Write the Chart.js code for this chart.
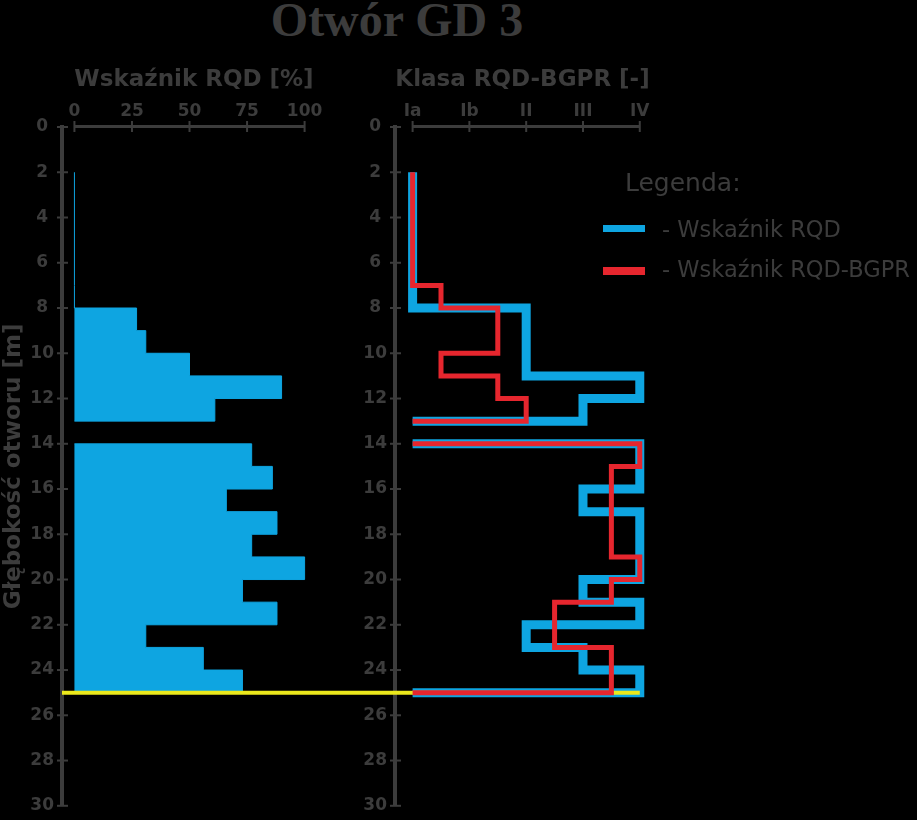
<!DOCTYPE html>
<html lang="pl">
<head>
<meta charset="utf-8">
<title>Otwór GD 3</title>
<script src="https://cdn.jsdelivr.net/npm/chart.js@4.4.1/dist/chart.umd.min.js"></script>
<style>
    html, body {
        margin: 0;
        padding: 0;
        background: #000;
        overflow: hidden;
    }

    body {
        position: relative;
        width: 917px;
        height: 820px;
        font-family: "DejaVu Sans", sans-serif;
        color: #3c3c3c;
    }

    #title {
        position: absolute;
        left: 397px;
        top: -4px;
        transform: translateX(-50%);
        font: bold 48px/48px "Liberation Serif", serif;
        white-space: nowrap;
    }

    #rqdChart {
        position: absolute;
        left: 0;
        top: 0;
    }

    #classChart {
        position: absolute;
        left: 330px;
        top: 0;
    }

    .legend-title {
        position: absolute;
        left: 625px;
        top: 170px;
        font-size: 25px;
        line-height: 25px;
    }

    .legend-swatch {
        position: absolute;
        left: 603px;
        width: 42px;
        height: 7px;
    }

    .legend-text {
        position: absolute;
        left: 662px;
        font-size: 22.5px;
        line-height: 22px;
        white-space: nowrap;
    }
</style>
</head>
<body>

<div id="title">Otwór GD 3</div>

<canvas id="rqdChart" width="330" height="824"></canvas>
<canvas id="classChart" width="587" height="824"></canvas>

<div class="legend-title">Legenda:</div>
<div class="legend-swatch" style="top:225px; background:#0ea5e1;"></div>
<div class="legend-text" style="top:218px;">- Wskaźnik RQD</div>
<div class="legend-swatch" style="top:267px; height:8px; background:#e6262e;"></div>
<div class="legend-text" style="top:258px;">- Wskaźnik RQD-BGPR</div>

<script>
// depth intervals [m]
const depthFrom = [2, 7, 8, 9, 10, 11, 12, 14, 15, 16, 17, 18, 19, 20, 21, 22, 23, 24];
const depthTo   = [7, 8, 9, 10, 11, 12, 13, 15, 16, 17, 18, 19, 20, 21, 22, 23, 24, 25];

// RQD [%]
const rqdValues = [0, 0, 27, 31, 50, 90, 61, 77, 86, 66, 88, 77, 100, 73, 88, 31, 56, 73];

// class position: Ia = 0, Ib = 1, II = 2, III = 3, IV = 4
const rqdClass  = [0, 0, 2, 2, 2, 4, 3, 4, 4, 3, 4, 4, 4, 3, 4, 2, 3, 4];
const bgprClass = [0, 0.5, 1.5, 1.5, 0.5, 1.5, 2, 4, 3.5, 3.5, 3.5, 3.5, 4, 3.5, 2.5, 2.5, 3.5, 3.5];

const rqdTicks = [0, 25, 50, 75, 100];
const classTicks = [0, 1, 2, 3, 4];
const classLabels = ['Ia', 'Ib', 'II', 'III', 'IV'];

const depthMin = 0;
const depthMax = 30;
const depthStep = 2;
const boreholeBottom = 25;

const grey = '#3c3c3c';
const blue = '#0ea5e1';
const red = '#e6262e';
const yellow = '#ebe81c';

Chart.defaults.font.family = "'DejaVu Sans', sans-serif";
Chart.defaults.color = grey;

// step profile: each interval starts at depthFrom, sections split where depth is missing
function buildProfile(values) {

    const points = [];

    for (let i = 0; i < depthFrom.length; i++) {

        const newSection = i === 0 || depthFrom[i] !== depthTo[i - 1];

        if (newSection) {

            if (i > 0) {
                points.push({x: 0, y: depthTo[i - 1]});
                points.push({x: null, y: (depthTo[i - 1] + depthFrom[i]) / 2});
            }

            points.push({x: 0, y: depthFrom[i]});
        }

        points.push({x: values[i], y: depthFrom[i]});
    }

    points.push({x: 0, y: depthTo[depthTo.length - 1]});

    return points;
}

// axis line between first and last tick, with crossing tick marks
const axisMarks = {
    id: 'axisMarks',
    beforeDatasetsDraw(chart) {

        const {ctx, chartArea, scales} = chart;
        const x = scales.x;
        const y = scales.y;

        ctx.save();
        ctx.strokeStyle = grey;

        const x0 = x.getPixelForValue(x.ticks[0].value);
        const x1 = x.getPixelForValue(x.ticks[x.ticks.length - 1].value);

        ctx.lineWidth = 3;
        ctx.beginPath();
        ctx.moveTo(x0, chartArea.top - 0.5);
        ctx.lineTo(x1, chartArea.top - 0.5);
        ctx.stroke();

        ctx.lineWidth = 2;

        x.ticks.forEach(t => {
            const px = x.getPixelForValue(t.value);
            ctx.beginPath();
            ctx.moveTo(px, chartArea.top - 6);
            ctx.lineTo(px, chartArea.top + 5);
            ctx.stroke();
        });

        y.ticks.forEach(t => {
            const py = y.getPixelForValue(t.value);
            ctx.beginPath();
            ctx.moveTo(chartArea.left - 5, py);
            ctx.lineTo(chartArea.left + 6, py);
            ctx.stroke();
        });

        ctx.restore();
    }
};

function drawBottomLine(chart, fromX, toX) {

    const {ctx} = chart;
    const py = chart.scales.y.getPixelForValue(boreholeBottom);

    ctx.save();
    ctx.strokeStyle = yellow;
    ctx.lineWidth = 4;
    ctx.beginPath();
    ctx.moveTo(fromX, py);
    ctx.lineTo(toX, py);
    ctx.stroke();
    ctx.restore();
}

const leftBottomLine = {
    id: 'leftBottomLine',
    afterDatasetsDraw(chart) {
        drawBottomLine(chart, chart.chartArea.left, chart.width);
    }
};

const rightBottomLine = {
    id: 'rightBottomLine',
    afterDatasetDraw(chart, args) {
        if (chart.data.datasets[args.index].label === 'Wskaźnik RQD') {
            drawBottomLine(chart, 0, chart.scales.x.getPixelForValue(classTicks[classTicks.length - 1]));
        }
    }
};

const tickFont = {
    size: 17,
    weight: 'bold'
};

const panelTitleFont = {
    size: 23,
    weight: 'bold'
};

function depthAxis(width, withTitle) {

    return {
        type: 'linear',
        reverse: true,
        min: depthMin,
        max: depthMax,
        afterFit: (scale) => {
            scale.width = width;
        },
        ticks: {
            stepSize: depthStep,
            autoSkip: false,
            crossAlign: 'center',
            padding: 8,
            color: grey,
            font: tickFont
        },
        grid: {
            display: false,
            drawTicks: false
        },
        border: {
            display: true,
            color: grey,
            width: 4
        },
        title: {
            display: withTitle,
            text: 'Głębokość otworu [m]',
            color: grey,
            padding: 0,
            font: panelTitleFont
        }
    };
}

function topAxis(min, max, ticks, title, labelFn) {

    return {
        type: 'linear',
        position: 'top',
        min: min,
        max: max,
        afterBuildTicks: (scale) => {
            scale.ticks = ticks.map(v => ({value: v}));
        },
        afterFit: (scale) => {
            scale.height = 61;
        },
        ticks: {
            autoSkip: false,
            maxRotation: 0,
            padding: 5,
            color: grey,
            font: tickFont,
            callback: labelFn
        },
        grid: {
            display: false,
            drawTicks: false
        },
        border: {
            display: false
        },
        title: {
            display: true,
            text: title,
            color: grey,
            padding: 0,
            font: panelTitleFont
        }
    };
}

new Chart(document.getElementById('rqdChart'), {

    type: 'line',

    data: {
        datasets: [{
            label: 'Wskaźnik RQD',
            data: buildProfile(rqdValues),
            stepped: 'after',
            fill: 'origin',
            borderColor: blue,
            backgroundColor: blue,
            borderWidth: 1,
            pointRadius: 0
        }]
    },

    options: {
        indexAxis: 'y',
        responsive: false,
        animation: false,
        layout: {
            padding: {top: 66, right: 4, bottom: 12, left: 0}
        },
        plugins: {
            legend: {display: false},
            tooltip: {enabled: false}
        },
        scales: {
            x: topAxis(-5.4, 109.3, rqdTicks, 'Wskaźnik RQD [%]', (value) => value),
            y: depthAxis(62, true)
        }
    },

    plugins: [axisMarks, leftBottomLine]
});

new Chart(document.getElementById('classChart'), {

    type: 'line',

    data: {
        datasets: [{
                label: 'Wskaźnik RQD',
                data: buildProfile(rqdClass),
                stepped: 'after',
                fill: false,
                borderColor: blue,
                borderWidth: 9,
                borderJoinStyle: 'miter',
                pointRadius: 0,
                order: 1,
                clip: false
            }, {
                label: 'Wskaźnik RQD-BGPR',
                data: buildProfile(bgprClass),
                stepped: 'after',
                fill: false,
                borderColor: red,
                borderWidth: 5,
                borderJoinStyle: 'miter',
                pointRadius: 0,
                order: 0,
                clip: false
            }]
    },

    options: {
        indexAxis: 'y',
        responsive: false,
        animation: false,
        layout: {
            padding: {top: 66, right: 267, bottom: 12, left: 0}
        },
        plugins: {
            legend: {display: false},
            tooltip: {enabled: false}
        },
        scales: {
            x: topAxis(-0.31, 4.18, classTicks, 'Klasa RQD-BGPR [-]', (value) => classLabels[value]),
            y: depthAxis(65, false)
        }
    },

    plugins: [axisMarks, rightBottomLine]
});
</script>
</body>
</html>
